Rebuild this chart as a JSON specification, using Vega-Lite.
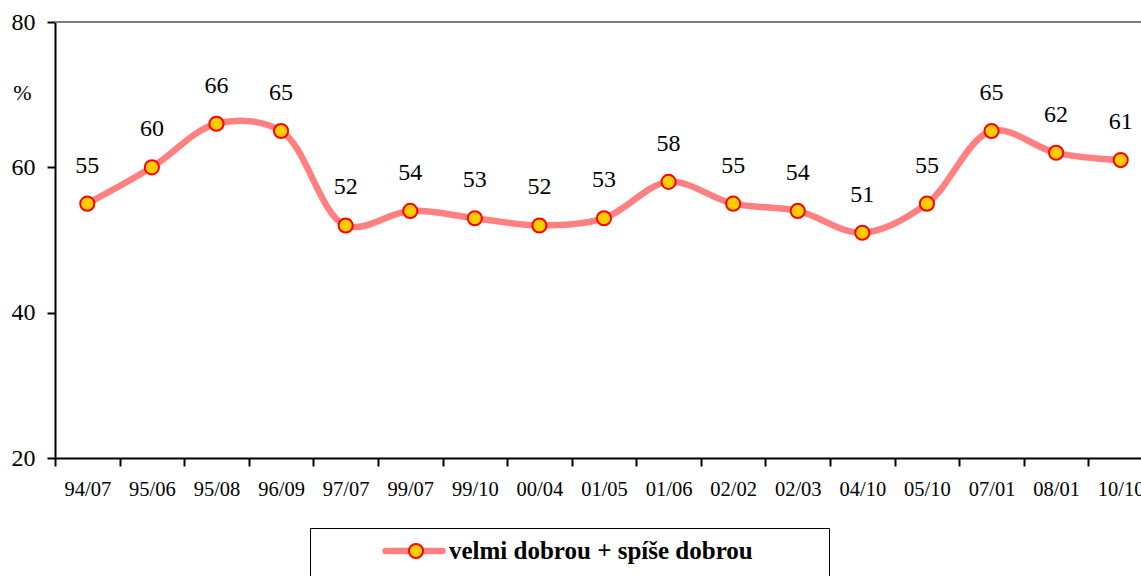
{
  "$schema": "https://vega.github.io/schema/vega-lite/v6.json",
  "width": 1098,
  "height": 436,
  "autosize": "none",
  "padding": {"left": 55, "top": 22, "right": 0, "bottom": 118},
  "background": "white",
  "config": {"font": "Liberation Serif", "view": {"stroke": null}},
  "data": {
    "values": [
      {"t": "94/07", "v": 55, "s": "velmi dobrou + spíše dobrou", "s2": "velmi dobrou + spíše dobrou"},
      {"t": "95/06", "v": 60, "s": "velmi dobrou + spíše dobrou", "s2": "velmi dobrou + spíše dobrou"},
      {"t": "95/08", "v": 66, "s": "velmi dobrou + spíše dobrou", "s2": "velmi dobrou + spíše dobrou"},
      {"t": "96/09", "v": 65, "s": "velmi dobrou + spíše dobrou", "s2": "velmi dobrou + spíše dobrou"},
      {"t": "97/07", "v": 52, "s": "velmi dobrou + spíše dobrou", "s2": "velmi dobrou + spíše dobrou"},
      {"t": "99/07", "v": 54, "s": "velmi dobrou + spíše dobrou", "s2": "velmi dobrou + spíše dobrou"},
      {"t": "99/10", "v": 53, "s": "velmi dobrou + spíše dobrou", "s2": "velmi dobrou + spíše dobrou"},
      {"t": "00/04", "v": 52, "s": "velmi dobrou + spíše dobrou", "s2": "velmi dobrou + spíše dobrou"},
      {"t": "01/05", "v": 53, "s": "velmi dobrou + spíše dobrou", "s2": "velmi dobrou + spíše dobrou"},
      {"t": "01/06", "v": 58, "s": "velmi dobrou + spíše dobrou", "s2": "velmi dobrou + spíše dobrou"},
      {"t": "02/02", "v": 55, "s": "velmi dobrou + spíše dobrou", "s2": "velmi dobrou + spíše dobrou"},
      {"t": "02/03", "v": 54, "s": "velmi dobrou + spíše dobrou", "s2": "velmi dobrou + spíše dobrou"},
      {"t": "04/10", "v": 51, "s": "velmi dobrou + spíše dobrou", "s2": "velmi dobrou + spíše dobrou"},
      {"t": "05/10", "v": 55, "s": "velmi dobrou + spíše dobrou", "s2": "velmi dobrou + spíše dobrou"},
      {"t": "07/01", "v": 65, "s": "velmi dobrou + spíše dobrou", "s2": "velmi dobrou + spíše dobrou"},
      {"t": "08/01", "v": 62, "s": "velmi dobrou + spíše dobrou", "s2": "velmi dobrou + spíše dobrou"},
      {"t": "10/10", "v": 61, "s": "velmi dobrou + spíše dobrou", "s2": "velmi dobrou + spíše dobrou"}
    ]
  },
  "layer": [
    {
      "mark": {"type": "rule", "color": "#808080", "strokeWidth": 2},
      "encoding": {"y": {"datum": 80, "type": "quantitative"}}
    },
    {
      "mark": {"type": "line", "interpolate": "catmull-rom", "strokeWidth": 6.5, "strokeCap": "round", "strokeJoin": "round"},
      "encoding": {
        "x": {"field": "t", "type": "ordinal", "sort": null,
          "scale": {"type": "band", "paddingInner": 0, "paddingOuter": 0},
          "axis": {"title": null, "labelAngle": 0, "tickBand": "extent", "domainColor": "black", "domainWidth": 2, "tickColor": "black", "tickWidth": 2, "tickSize": 8, "labelFontSize": 20.5, "labelColor": "black", "labelPadding": 13, "labelFont": "Liberation Serif"}},
        "y": {"field": "v", "type": "quantitative",
          "scale": {"domain": [20, 80], "nice": false, "zero": false},
          "axis": {"values": [20, 40, 60, 80], "grid": false, "domainColor": "black", "domainWidth": 2, "tickColor": "black", "tickWidth": 2, "tickSize": 8, "labelFontSize": 24, "labelColor": "black", "labelPadding": 12, "labelFont": "Liberation Serif",
            "title": "%", "titleAngle": 0, "titleFontSize": 22, "titleFontWeight": "normal", "titleFont": "Liberation Serif", "titleColor": "black", "titleX": -33, "titleY": 70, "titleAlign": "center", "titleBaseline": "middle"}},
        "stroke": {"field": "s", "type": "nominal",
          "scale": {"range": ["#FF8080"]},
          "legend": {"orient": "none", "legendX": 255, "legendY": 506, "padding": 10, "strokeColor": "black", "symbolType": "stroke", "symbolSize": 3249, "symbolStrokeWidth": 6.5, "symbolOffset": 62, "labelOffset": 3, "labelFontSize": 25, "labelFontWeight": "bold", "labelFont": "Liberation Serif", "labelColor": "black", "labelLimit": 800, "clipHeight": 26,
            "title": "velmi dobrou + spíše dobrou", "titleOrient": "bottom", "titleAnchor": "start", "titleColor": "transparent", "titleFontSize": 41, "titleFontWeight": "bold", "titleFont": "Liberation Serif", "titleLimit": 2000, "titlePadding": 0,
            "encode": {"symbols": {"update": {"strokeCap": {"value": "round"}}}}}}
      }
    },
    {
      "mark": {"type": "point", "filled": true, "shape": "circle", "size": 200, "stroke": "#FF0000", "strokeWidth": 2, "opacity": 1},
      "encoding": {
        "x": {"field": "t", "type": "ordinal", "sort": null},
        "y": {"field": "v", "type": "quantitative"},
        "fill": {"field": "s2", "type": "nominal",
          "scale": {"range": ["#FFCC00"]},
          "legend": {"orient": "none", "legendX": 255, "legendY": 506, "title": null, "padding": 10, "symbolType": "circle", "symbolSize": 200, "symbolStrokeColor": "#FF0000", "symbolStrokeWidth": 2, "symbolOpacity": 1, "symbolOffset": 86, "labelFontSize": 20, "labelColor": "transparent", "labelLimit": 800, "clipHeight": 26}}
      }
    },
    {
      "mark": {"type": "text", "fontSize": 24, "font": "Liberation Serif", "color": "black", "baseline": "middle", "dy": -38},
      "encoding": {
        "x": {"field": "t", "type": "ordinal", "sort": null},
        "y": {"field": "v", "type": "quantitative"},
        "text": {"field": "v", "type": "quantitative"}
      }
    }
  ]
}
